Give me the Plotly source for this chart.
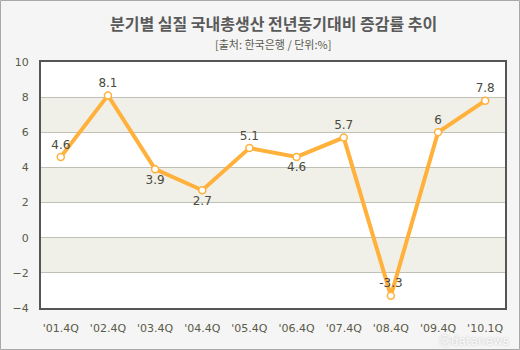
import plotly.graph_objects as go

quarters = ["'01.4Q", "'02.4Q", "'03.4Q", "'04.4Q", "'05.4Q", "'06.4Q", "'07.4Q", "'08.4Q", "'09.4Q", "'10.1Q"]
growth = [4.6, 8.1, 3.9, 2.7, 5.1, 4.6, 5.7, -3.3, 6, 7.8]
label_pos = ["top center", "top center", "bottom center", "bottom center", "top center",
             "bottom center", "top center", "top center", "top center", "top center"]
title_text = "분기별 실질 국내총생산 전년동기대비 증감률 추이"
subtitle_text = "[출처: 한국은행 / 단위:%]"

fig = go.Figure()
fig.add_trace(go.Scatter(
    x=quarters, y=growth, mode="lines+markers+text",
    text=[f"{v:g}" for v in growth], textposition=label_pos,
    textfont=dict(family="DejaVu Sans", size=12, color="#4a4a40"),
    line=dict(color="#FFB13B", width=4),
    marker=dict(size=7, color="white", line=dict(color="#FFB13B", width=1.5)),
    cliponaxis=False, hoverinfo="skip"))

# alternating bands
shapes = []
for lo in [6, 2, -2]:
    shapes.append(dict(type="rect", xref="paper", yref="y", x0=0, x1=1, y0=lo, y1=lo + 2,
                       fillcolor="#F0F0E8", line=dict(width=0), layer="below"))
# outer border
shapes.append(dict(type="rect", xref="paper", yref="paper",
                   x0=-40.5 / 464, x1=(519.5 - 41) / 464,
                   y0=(308 - 349.5) / 246, y1=(308 - 0.5) / 246,
                   line=dict(color="#A8A8A8", width=1), fillcolor="rgba(0,0,0,0)", layer="below"))

fig.update_layout(
    width=520, height=350, autosize=False,
    margin=dict(l=41, r=15, t=62, b=42),
    paper_bgcolor="#F5F5F5", plot_bgcolor="white",
    showlegend=False, shapes=shapes,
    annotations=[
        dict(text=f"<b>{title_text}</b>", xref="paper", yref="paper", x=0.5, y=(308 - 23) / 246,
             showarrow=False, font=dict(family="Noto Sans CJK KR", size=16, color="#5a5a5a"),
             xanchor="center", yanchor="middle"),
        dict(text=subtitle_text, xref="paper", yref="paper", x=0.5, y=(308 - 44) / 246,
             showarrow=False, font=dict(family="Noto Sans CJK KR", size=11, color="#5a5a50"),
             xanchor="center", yanchor="middle"),
        dict(text="ⓒdatanews", xref="paper", yref="paper", x=(511 - 41) / 464, y=(308 - 341) / 246,
             showarrow=False, font=dict(family="DejaVu Sans", size=12, color="rgba(255,255,255,0.9)",
                                        shadow="0px 0px 2px #B0B0B0"),
             xanchor="right", yanchor="middle"),
    ],
    xaxis=dict(type="category", range=[-0.42, 9.42], showgrid=False, zeroline=False,
               showline=True, mirror=True, linecolor="#555555", linewidth=2,
               ticks="", ticklabelstandoff=9,
               tickfont=dict(family="DejaVu Sans", size=11, color="#5a5a48")),
    yaxis=dict(range=[-4, 10], dtick=2, tick0=0, showgrid=True, gridcolor="#C0C0B4", gridwidth=1,
               zeroline=False, showline=True, mirror=True, linecolor="#555555", linewidth=2,
               ticks="", ticklabelstandoff=8,
               tickfont=dict(family="DejaVu Sans", size=11, color="#5a5a48")),
)

fig.write_html("out.html")
